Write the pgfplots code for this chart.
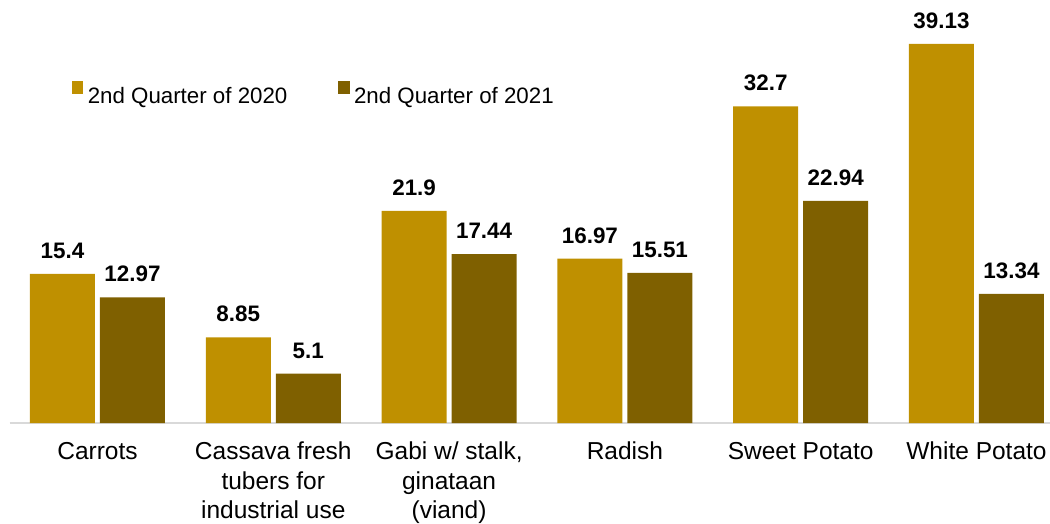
\documentclass[border=0pt]{standalone}
\usepackage{fontspec}
\setmainfont{Liberation Sans}
\usepackage{pgfplots}
\pgfplotsset{compat=1.18}

\definecolor{gold}{HTML}{BF9000}
\definecolor{darkgold}{HTML}{7F6000}
\definecolor{axisgray}{HTML}{D9D9D9}

\begin{document}
\begin{tikzpicture}
\begin{axis}[
    at={(0pt,0pt)}, anchor=south west,
    scale only axis,
    width=1040.4pt, height=423pt,
    xmin=-0.5, xmax=5.418,
    ymin=0, ymax=43.67,
    ybar, bar width=65pt,
    axis x line*=bottom,
    axis y line=none,
    x axis line style={draw=axisgray, line width=1.3pt, -},
    xtick={0,1,2,3,4,5},
    xticklabels={Carrots, Cassava fresh\\tubers for\\industrial use, {Gabi w/ stalk,\\ginataan\\(viand)}, Radish, Sweet Potato, White Potato},
    major tick length=0pt,
    xticklabel style={anchor=north, align=center, inner sep=0pt, yshift=-19pt,
        font=\fontsize{24.5}{29.5}\selectfont},
    ytick=\empty,
    /pgf/number format/assume math mode=true,
    nodes near coords,
    every node near coord/.append style={anchor=south, inner sep=0pt, yshift=15pt,
        font=\fontsize{22.4}{26}\selectfont\bfseries, text=black},
    legend columns=2,
    legend style={draw=none, fill=none, inner sep=0pt, outer sep=0pt,
        at={(0.0597,0.8076)}, anchor=north west,
        font=\fontsize{22.3}{26}\selectfont,
        nodes={inner xsep=4.6pt, inner ysep=0pt},
        /tikz/every even column/.append style={column sep=46pt}},
    legend image code/.code={\fill[#1] (0pt,1.5pt) rectangle (11.5pt,14.5pt);},
    clip=false,
]
\addplot[fill=gold, draw=none, bar shift=-35pt] coordinates {
    (0,15.4) (1,8.85) (2,21.9) (3,16.97) (4,32.7) (5,39.13)};
\addlegendentry{2nd Quarter of 2020}
\addplot[fill=darkgold, draw=none, bar shift=35pt] coordinates {
    (0,12.97) (1,5.1) (2,17.44) (3,15.51) (4,22.94) (5,13.34)};
\addlegendentry{2nd Quarter of 2021}
\end{axis}
\pgfresetboundingbox
\useasboundingbox (-9.6pt,-100pt) rectangle (1040.4pt,423pt);
\end{tikzpicture}
\end{document}
